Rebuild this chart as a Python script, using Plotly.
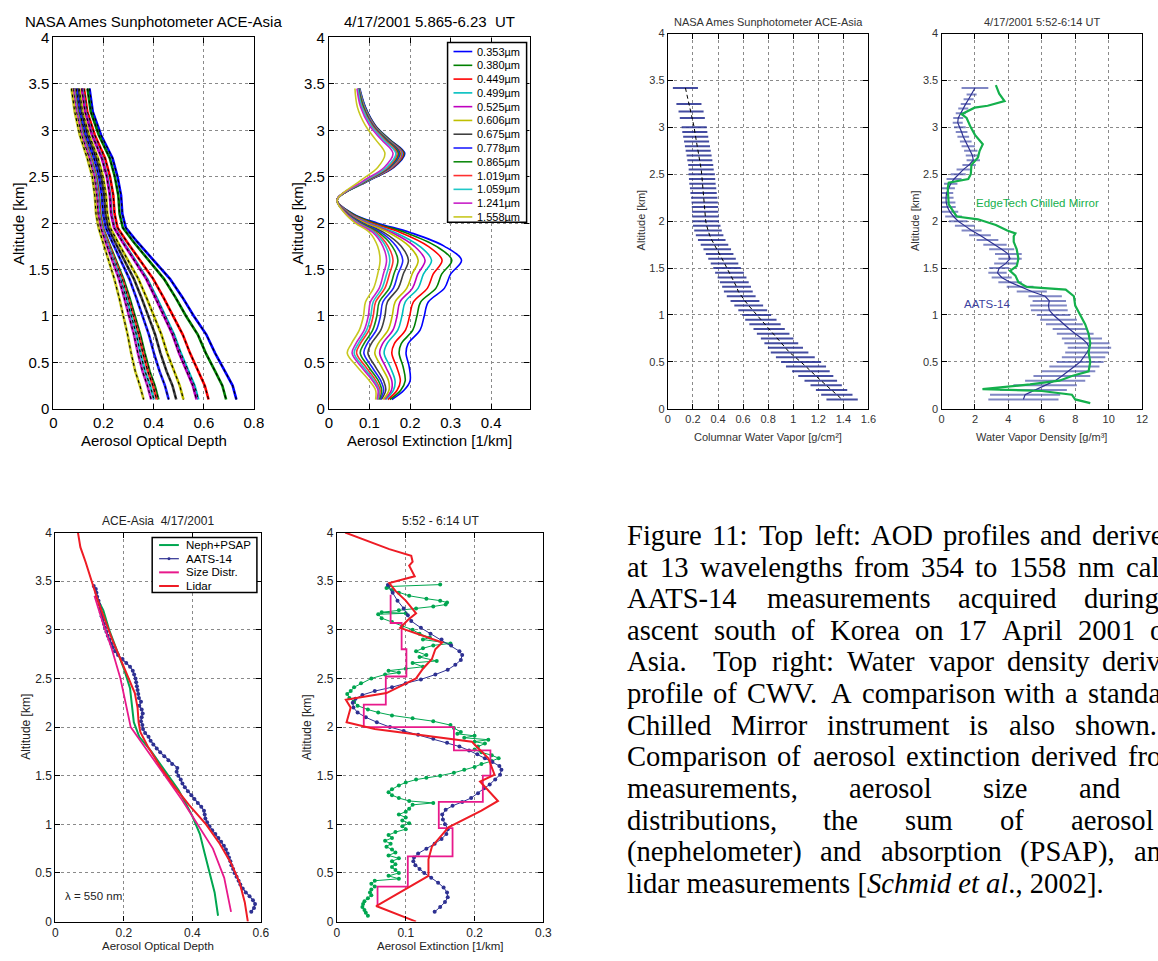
import plotly.graph_objects as go

W, H = 1158, 961
SANS = "Liberation Sans, Arial, Helvetica, sans-serif"
SERIF = "Liberation Serif, Times New Roman, serif"

# ---------------- top-left: AOD profiles (13 wavelengths) ----------------
wavelength_labels = ["0.353µm", "0.380µm", "0.449µm", "0.499µm", "0.525µm", "0.606µm", "0.675µm",
                     "0.778µm", "0.865µm", "1.019µm", "1.059µm", "1.241µm", "1.558µm"]
aod_altitude = [3.45, 3.2, 2.95, 2.7, 2.5, 2.3, 2.1, 1.95, 1.8, 1.6, 1.4, 1.2, 1.0, 0.8, 0.6, 0.4, 0.25, 0.1]
aod_0353 = [0.144, 0.157, 0.19, 0.236, 0.256, 0.27, 0.275, 0.289, 0.334, 0.4, 0.465, 0.515, 0.56, 0.61, 0.645, 0.685, 0.715, 0.73]
aod_0380 = [0.136, 0.149, 0.181, 0.225, 0.245, 0.259, 0.264, 0.277, 0.319, 0.38, 0.441, 0.487, 0.529, 0.576, 0.608, 0.646, 0.674, 0.689]
aod_0449 = [0.122, 0.135, 0.165, 0.206, 0.226, 0.239, 0.244, 0.256, 0.293, 0.346, 0.398, 0.439, 0.476, 0.516, 0.545, 0.578, 0.604, 0.619]
aod_0499 = [0.115, 0.128, 0.155, 0.195, 0.215, 0.227, 0.232, 0.244, 0.278, 0.326, 0.374, 0.411, 0.445, 0.481, 0.508, 0.538, 0.563, 0.578]
aod_0525 = [0.113, 0.126, 0.154, 0.193, 0.213, 0.225, 0.23, 0.242, 0.275, 0.323, 0.37, 0.406, 0.44, 0.475, 0.501, 0.531, 0.556, 0.571]
aod_0606 = [0.103, 0.116, 0.142, 0.178, 0.198, 0.21, 0.215, 0.227, 0.256, 0.297, 0.339, 0.371, 0.4, 0.431, 0.454, 0.481, 0.504, 0.519]
aod_0675 = [0.097, 0.11, 0.135, 0.17, 0.19, 0.202, 0.207, 0.218, 0.245, 0.283, 0.321, 0.351, 0.378, 0.406, 0.427, 0.452, 0.475, 0.49]
aod_0778 = [0.091, 0.104, 0.128, 0.162, 0.182, 0.193, 0.198, 0.209, 0.234, 0.269, 0.303, 0.33, 0.356, 0.381, 0.401, 0.424, 0.445, 0.46]
aod_0865 = [0.084, 0.097, 0.119, 0.151, 0.171, 0.182, 0.187, 0.197, 0.219, 0.249, 0.279, 0.303, 0.325, 0.346, 0.364, 0.384, 0.404, 0.419]
aod_1019 = [0.082, 0.095, 0.117, 0.149, 0.169, 0.18, 0.185, 0.195, 0.216, 0.245, 0.274, 0.297, 0.319, 0.34, 0.357, 0.377, 0.397, 0.412]
aod_1059 = [0.08, 0.093, 0.114, 0.146, 0.166, 0.177, 0.182, 0.192, 0.212, 0.24, 0.267, 0.29, 0.311, 0.331, 0.347, 0.366, 0.386, 0.401]
aod_1241 = [0.078, 0.091, 0.112, 0.143, 0.163, 0.173, 0.178, 0.189, 0.208, 0.234, 0.261, 0.282, 0.302, 0.321, 0.337, 0.356, 0.375, 0.39]
aod_1558 = [0.072, 0.085, 0.105, 0.135, 0.155, 0.165, 0.17, 0.18, 0.197, 0.22, 0.243, 0.262, 0.28, 0.296, 0.31, 0.327, 0.345, 0.36]

# ---------------- top-middle: extinction profiles ----------------
ext_altitude = [3.45, 3.25, 3.05, 2.9, 2.75, 2.6, 2.45, 2.25, 2.1, 2.0, 1.9, 1.75, 1.6, 1.45, 1.3, 1.15, 1.0, 0.85, 0.7, 0.6, 0.45, 0.3, 0.2, 0.1]
ext_0353 = [0.076, 0.09, 0.115, 0.15, 0.187, 0.16, 0.095, 0.02, 0.06, 0.12, 0.2, 0.285, 0.327, 0.3, 0.285, 0.245, 0.235, 0.225, 0.195, 0.19, 0.198, 0.2, 0.185, 0.155]
ext_0380 = [0.075, 0.089, 0.114, 0.149, 0.185, 0.158, 0.094, 0.02, 0.058, 0.113, 0.188, 0.265, 0.303, 0.278, 0.264, 0.226, 0.217, 0.207, 0.178, 0.173, 0.183, 0.188, 0.177, 0.15]
ext_0449 = [0.075, 0.088, 0.113, 0.147, 0.183, 0.157, 0.093, 0.02, 0.055, 0.107, 0.176, 0.245, 0.279, 0.257, 0.243, 0.208, 0.199, 0.189, 0.161, 0.155, 0.167, 0.176, 0.168, 0.145]
ext_0499 = [0.075, 0.088, 0.112, 0.146, 0.181, 0.155, 0.093, 0.02, 0.053, 0.1, 0.163, 0.224, 0.253, 0.233, 0.22, 0.188, 0.18, 0.17, 0.143, 0.136, 0.151, 0.163, 0.159, 0.14]
ext_0525 = [0.074, 0.087, 0.111, 0.144, 0.179, 0.154, 0.092, 0.02, 0.051, 0.095, 0.155, 0.211, 0.237, 0.219, 0.206, 0.175, 0.168, 0.158, 0.132, 0.125, 0.14, 0.155, 0.154, 0.137]
ext_0606 = [0.074, 0.086, 0.11, 0.143, 0.177, 0.152, 0.091, 0.02, 0.049, 0.091, 0.147, 0.198, 0.22, 0.205, 0.192, 0.163, 0.156, 0.146, 0.121, 0.113, 0.13, 0.147, 0.148, 0.134]
ext_0675 = [0.073, 0.085, 0.109, 0.142, 0.175, 0.15, 0.09, 0.02, 0.047, 0.084, 0.135, 0.178, 0.196, 0.183, 0.171, 0.144, 0.138, 0.128, 0.104, 0.096, 0.115, 0.135, 0.14, 0.129]
ext_0778 = [0.073, 0.084, 0.108, 0.14, 0.173, 0.149, 0.089, 0.02, 0.046, 0.08, 0.128, 0.166, 0.182, 0.17, 0.159, 0.133, 0.127, 0.117, 0.094, 0.086, 0.106, 0.128, 0.135, 0.126]
ext_0865 = [0.072, 0.084, 0.107, 0.139, 0.171, 0.147, 0.089, 0.02, 0.044, 0.077, 0.122, 0.156, 0.17, 0.16, 0.149, 0.124, 0.118, 0.108, 0.086, 0.077, 0.098, 0.122, 0.13, 0.124]
ext_1019 = [0.071, 0.082, 0.106, 0.137, 0.168, 0.145, 0.087, 0.02, 0.043, 0.074, 0.116, 0.146, 0.158, 0.149, 0.138, 0.115, 0.109, 0.099, 0.077, 0.068, 0.091, 0.116, 0.126, 0.121]
ext_1059 = [0.071, 0.081, 0.104, 0.134, 0.165, 0.142, 0.086, 0.02, 0.042, 0.072, 0.112, 0.14, 0.15, 0.142, 0.131, 0.109, 0.103, 0.093, 0.072, 0.062, 0.085, 0.112, 0.123, 0.12]
ext_1241 = [0.069, 0.078, 0.1, 0.129, 0.158, 0.136, 0.083, 0.02, 0.042, 0.069, 0.108, 0.133, 0.142, 0.134, 0.124, 0.102, 0.097, 0.087, 0.066, 0.057, 0.08, 0.108, 0.121, 0.118]
ext_1558 = [0.064, 0.07, 0.09, 0.115, 0.138, 0.12, 0.075, 0.02, 0.04, 0.065, 0.1, 0.12, 0.126, 0.12, 0.11, 0.09, 0.085, 0.075, 0.055, 0.045, 0.07, 0.1, 0.115, 0.115]

# ---------------- top-right 1: columnar water vapour ----------------
cwv_altitude = [3.42, 3.25, 3.17, 3.1, 3.0, 2.95, 2.9, 2.85, 2.8, 2.75, 2.7, 2.65, 2.6, 2.55, 2.5, 2.45, 2.4, 2.35,
                2.3, 2.25, 2.2, 2.15, 2.1, 2.05, 2.0, 1.95, 1.9, 1.85, 1.8, 1.75, 1.7, 1.65, 1.6, 1.55, 1.5, 1.45,
                1.4, 1.35, 1.3, 1.25, 1.2, 1.15, 1.1, 1.05, 1.0, 0.95, 0.9, 0.85, 0.8, 0.75, 0.7, 0.65, 0.6, 0.55,
                0.5, 0.45, 0.4, 0.35, 0.3, 0.25, 0.2, 0.15, 0.1]
cwv_value = [0.14, 0.168, 0.185, 0.195, 0.21, 0.215, 0.222, 0.229, 0.236, 0.242, 0.249, 0.255, 0.262, 0.266, 0.27,
             0.273, 0.276, 0.281, 0.285, 0.29, 0.294, 0.296, 0.298, 0.3, 0.302, 0.31, 0.32, 0.333, 0.35, 0.372,
             0.394, 0.413, 0.432, 0.452, 0.472, 0.492, 0.512, 0.53, 0.548, 0.562, 0.585, 0.615, 0.645, 0.677,
             0.709, 0.742, 0.775, 0.808, 0.84, 0.872, 0.905, 0.938, 0.971, 1.017, 1.063, 1.102, 1.141, 1.18,
             1.22, 1.263, 1.306, 1.348, 1.39]
cwv_error = [0.1, 0.1, 0.1, 0.1, 0.1, 0.1, 0.1, 0.1, 0.1, 0.1, 0.1, 0.1, 0.1, 0.1, 0.105, 0.105, 0.105, 0.105,
             0.105, 0.105, 0.105, 0.105, 0.105, 0.105, 0.105, 0.11, 0.11, 0.11, 0.11, 0.11, 0.11, 0.11, 0.11,
             0.11, 0.11, 0.115, 0.115, 0.115, 0.115, 0.115, 0.115, 0.115, 0.115, 0.115, 0.115, 0.125, 0.125,
             0.125, 0.13, 0.13, 0.135, 0.14, 0.15, 0.155, 0.16, 0.16, 0.15, 0.14, 0.13, 0.125, 0.125, 0.125, 0.125]

# ---------------- top-right 2: water vapour density ----------------
wvd_altitude = [3.42, 3.35, 3.3, 3.25, 3.2, 3.15, 3.1, 3.05, 3.0, 2.95, 2.9, 2.85, 2.8, 2.75, 2.7, 2.65, 2.6, 2.55,
                2.5, 2.45, 2.4, 2.35, 2.3, 2.25, 2.2, 2.15, 2.1, 2.05, 2.0, 1.95, 1.9, 1.85, 1.8, 1.75, 1.7, 1.65,
                1.6, 1.55, 1.5, 1.45, 1.4, 1.35, 1.3, 1.25, 1.2, 1.15, 1.1, 1.05, 1.0, 0.95, 0.9, 0.85, 0.8, 0.75,
                0.7, 0.65, 0.6, 0.55, 0.5, 0.45, 0.4, 0.35, 0.3, 0.25, 0.2, 0.15, 0.1]
wvd_aats = [2.0, 1.8, 1.62, 1.45, 1.3, 1.15, 1.0, 0.97, 1.1, 1.2, 1.3, 1.45, 1.6, 1.75, 1.85, 1.9, 1.65, 1.3, 1.0,
            0.75, 0.55, 0.4, 0.3, 0.27, 0.28, 0.35, 0.5, 0.72, 1.0, 1.4, 1.8, 2.3, 2.75, 3.2, 3.6, 4.0, 4.1, 3.85,
            3.45, 3.35, 3.6, 4.1, 4.7, 5.4, 6.2, 6.45, 6.4, 6.45, 6.7, 7.0, 7.35, 7.65, 8.0, 8.4, 8.7, 8.85, 8.7,
            8.5, 8.3, 7.95, 7.6, 7.2, 6.8, 6.2, 5.5, 5.0, 4.9]
wvd_error = [0.8, 0.3, 0.3, 0.3, 0.3, 0.3, 0.3, 0.3, 0.35, 0.35, 0.35, 0.35, 0.4, 0.4, 0.4, 0.4, 0.4, 0.4, 0.45,
             0.45, 0.4, 0.4, 0.4, 0.45, 0.55, 0.5, 0.5, 0.5, 0.55, 0.6, 0.6, 0.65, 0.65, 0.7, 0.75, 0.8, 0.7, 0.7,
             0.6, 0.55, 0.6, 0.7, 0.8, 0.9, 1.0, 1.0, 1.1, 1.1, 1.0, 1.1, 1.1, 1.0, 1.1, 1.2, 1.35, 1.3, 1.3, 1.3,
             1.4, 1.5, 1.6, 1.7, 1.8, 1.9, 2.0, 2.1, 2.1]
edgetech_altitude = [3.45, 3.36, 3.28, 3.23, 3.21, 3.14, 3.1, 3.0, 2.92, 2.82, 2.75, 2.68, 2.6, 2.5, 2.45, 2.41, 2.35,
                     2.25, 2.18, 2.1, 2.05, 2.02, 1.96, 1.9, 1.87, 1.84, 1.78, 1.7, 1.6, 1.52, 1.47, 1.42, 1.35, 1.3,
                     1.27, 1.2, 1.1, 1.0, 0.9, 0.8, 0.7, 0.6, 0.5, 0.4, 0.35, 0.3, 0.26, 0.21, 0.19, 0.15, 0.1, 0.06]
edgetech_wvd = [3.25, 3.45, 3.77, 2.76, 1.98, 1.2, 1.5, 1.75, 2.0, 2.47, 2.28, 2.18, 1.79, 1.75, 1.6, 0.43, 0.37, 0.4,
                0.43, 0.72, 0.91, 2.18, 3.25, 3.93, 4.42, 4.32, 4.32, 4.5, 4.6, 4.5, 4.1, 4.42, 4.6, 5.1, 7.43, 7.92,
                8.0, 8.3, 8.6, 8.8, 8.9, 8.8, 8.9, 8.8, 7.8, 7.05, 5.3, 2.45, 6.0, 7.8, 8.0, 8.9]

# ---------------- bottom-left: AOD comparison (550 nm) ----------------
neph_aod_altitude = [3.35, 3.2, 3.0, 2.8, 2.6, 2.4, 2.2, 2.05, 1.9, 1.75, 1.55, 1.35, 1.1, 0.9, 0.7, 0.5, 0.3, 0.06]
neph_aod = [0.118, 0.14, 0.157, 0.178, 0.2, 0.218, 0.225, 0.229, 0.245, 0.28, 0.32, 0.36, 0.398, 0.422, 0.436, 0.451, 0.465, 0.475]
aats_aod_altitude = [3.45, 3.42, 3.38, 3.34, 3.3, 3.26, 3.22, 3.18, 3.14, 3.1, 3.06, 3.02, 2.98, 2.94, 2.9, 2.86, 2.82,
                     2.78, 2.74, 2.7, 2.66, 2.62, 2.58, 2.54, 2.5, 2.46, 2.42, 2.38, 2.34, 2.3, 2.26, 2.22, 2.18, 2.14,
                     2.1, 2.06, 2.02, 1.98, 1.94, 1.9, 1.86, 1.82, 1.78, 1.74, 1.7, 1.66, 1.62, 1.58, 1.54, 1.5, 1.46,
                     1.42, 1.38, 1.34, 1.3, 1.26, 1.22, 1.18, 1.14, 1.1, 1.06, 1.02, 0.98, 0.94, 0.9, 0.86, 0.82, 0.78,
                     0.74, 0.7, 0.66, 0.62, 0.58, 0.54, 0.5, 0.46, 0.42, 0.38, 0.34, 0.3, 0.26, 0.22, 0.18, 0.14, 0.1]
aats_aod = [0.112, 0.118, 0.12, 0.122, 0.126, 0.128, 0.131, 0.133, 0.135, 0.139, 0.142, 0.145, 0.149, 0.153, 0.158,
            0.163, 0.168, 0.174, 0.183, 0.196, 0.207, 0.218, 0.226, 0.23, 0.234, 0.236, 0.238, 0.24, 0.242, 0.244,
            0.25, 0.245, 0.252, 0.255, 0.252, 0.25, 0.254, 0.256, 0.262, 0.272, 0.278, 0.286, 0.296, 0.306, 0.318,
            0.33, 0.341, 0.356, 0.354, 0.359, 0.366, 0.371, 0.378, 0.387, 0.397, 0.406, 0.416, 0.426, 0.434, 0.436,
            0.438, 0.443, 0.45, 0.458, 0.467, 0.476, 0.484, 0.492, 0.498, 0.503, 0.507, 0.511, 0.514, 0.519, 0.523,
            0.529, 0.535, 0.54, 0.547, 0.556, 0.567, 0.577, 0.583, 0.58, 0.572]
size_aod_altitude = [3.35, 3.1, 2.8, 2.5, 2.25, 2.0, 1.8, 1.55, 1.25, 1.0, 0.75, 0.45, 0.1]
size_aod = [0.114, 0.136, 0.165, 0.19, 0.205, 0.22, 0.26, 0.31, 0.37, 0.415, 0.46, 0.493, 0.513]
lidar_aod_altitude = [4.0, 3.85, 3.7, 3.5, 3.3, 3.1, 2.9, 2.7, 2.5, 2.35, 2.2, 2.05, 1.95, 1.8, 1.6, 1.4, 1.2, 1.0, 0.8, 0.6, 0.4, 0.2, 0.0]
lidar_aod = [0.066, 0.073, 0.088, 0.106, 0.124, 0.145, 0.166, 0.19, 0.215, 0.232, 0.24, 0.243, 0.248, 0.27, 0.305,
             0.345, 0.39, 0.44, 0.48, 0.513, 0.538, 0.553, 0.562]

# ---------------- bottom-middle: extinction comparison ----------------
neph_ext_altitude = [3.465, 3.445, 3.43, 3.41, 3.38, 3.35, 3.32, 3.3, 3.28, 3.26, 3.24, 3.22, 3.2, 3.18, 3.17, 3.16,
                     3.12, 3.08, 3.04, 3.0, 2.96, 2.92, 2.9, 2.86, 2.84, 2.81, 2.78, 2.74, 2.72, 2.68, 2.66, 2.62,
                     2.6, 2.58, 2.56, 2.54, 2.5, 2.45, 2.41, 2.37, 2.34, 2.3, 2.26, 2.22, 2.18, 2.15, 2.12, 2.09,
                     2.06, 2.02, 1.99, 1.95, 1.93, 1.91, 1.89, 1.87, 1.85, 1.83, 1.8, 1.77, 1.74, 1.71, 1.68, 1.65,
                     1.62, 1.59, 1.56, 1.53, 1.5, 1.48, 1.46, 1.43, 1.4, 1.36, 1.33, 1.3, 1.27, 1.24, 1.22, 1.2, 1.16,
                     1.13, 1.1, 1.07, 1.04, 1.01, 0.98, 0.95, 0.92, 0.89, 0.86, 0.83, 0.8, 0.77, 0.74, 0.71, 0.68,
                     0.65, 0.62, 0.59, 0.56, 0.53, 0.5, 0.47, 0.44, 0.42, 0.39, 0.36, 0.33, 0.3, 0.27, 0.24, 0.21,
                     0.18, 0.15, 0.12, 0.09, 0.06]
neph_ext = [0.15, 0.075, 0.072, 0.08, 0.09, 0.105, 0.13, 0.15, 0.16, 0.158, 0.14, 0.115, 0.09, 0.065, 0.1, 0.06,
            0.065, 0.08, 0.095, 0.11, 0.12, 0.135, 0.125, 0.165, 0.14, 0.125, 0.115, 0.13, 0.12, 0.145, 0.11, 0.125,
            0.1, 0.075, 0.09, 0.07, 0.05, 0.035, 0.025, 0.02, 0.015, 0.018, 0.025, 0.03, 0.045, 0.06, 0.08, 0.11,
            0.14, 0.165, 0.17, 0.18, 0.175, 0.2, 0.185, 0.22, 0.2, 0.215, 0.205, 0.2, 0.21, 0.225, 0.235, 0.225,
            0.21, 0.2, 0.185, 0.17, 0.15, 0.13, 0.115, 0.1, 0.09, 0.08, 0.075, 0.08, 0.09, 0.105, 0.14, 0.11, 0.105,
            0.1, 0.09, 0.1, 0.095, 0.105, 0.095, 0.1, 0.085, 0.075, 0.08, 0.07, 0.078, 0.072, 0.08, 0.085, 0.075,
            0.09, 0.08, 0.085, 0.08, 0.085, 0.09, 0.075, 0.09, 0.055, 0.05, 0.055, 0.05, 0.048, 0.05, 0.045, 0.04,
            0.038, 0.037, 0.04, 0.042, 0.045]
aats_ext_altitude = [3.46, 3.38, 3.3, 3.22, 3.15, 3.09, 3.02, 2.96, 2.9, 2.84, 2.78, 2.74, 2.69, 2.64, 2.59, 2.54,
                     2.49, 2.45, 2.41, 2.37, 2.33, 2.29, 2.25, 2.2, 2.15, 2.1, 2.05, 2.0, 1.96, 1.92, 1.88, 1.84, 1.8,
                     1.76, 1.72, 1.68, 1.64, 1.6, 1.56, 1.51, 1.46, 1.41, 1.37, 1.32, 1.27, 1.23, 1.19, 1.15, 1.1,
                     1.05, 1.0, 0.95, 0.9, 0.85, 0.8, 0.75, 0.7, 0.66, 0.62, 0.58, 0.54, 0.5, 0.45, 0.4, 0.35, 0.3,
                     0.25, 0.2, 0.15, 0.1]
aats_ext = [0.074, 0.081, 0.088, 0.097, 0.103, 0.108, 0.122, 0.136, 0.152, 0.166, 0.178, 0.182, 0.18, 0.172, 0.161,
            0.143, 0.122, 0.1, 0.08, 0.055, 0.037, 0.027, 0.023, 0.024, 0.03, 0.042, 0.058, 0.077, 0.097, 0.118,
            0.14, 0.16, 0.178, 0.192, 0.204, 0.215, 0.226, 0.236, 0.239, 0.237, 0.23, 0.222, 0.214, 0.205, 0.195,
            0.182, 0.168, 0.158, 0.153, 0.154, 0.157, 0.161, 0.159, 0.152, 0.142, 0.13, 0.118, 0.112, 0.111, 0.114,
            0.12, 0.127, 0.137, 0.147, 0.155, 0.16, 0.161, 0.157, 0.15, 0.142]
size_ext_bin_edges = [0.17, 0.36, 0.67, 0.96, 1.23, 1.5, 1.76, 2.0, 2.23, 2.52, 2.8, 3.07, 3.36]
size_ext = [0.059, 0.103, 0.168, 0.148, 0.212, 0.223, 0.17, 0.039, 0.071, 0.101, 0.094, 0.078]
lidar_ext_altitude = [4.0, 3.9, 3.83, 3.76, 3.7, 3.66, 3.6, 3.55, 3.48, 3.4, 3.3, 3.17, 3.1, 3.02, 2.87, 2.8, 2.7,
                      2.6, 2.5, 2.45, 2.35, 2.28, 2.2, 2.15, 2.05, 1.98, 1.85, 1.82, 1.68, 1.51, 1.44, 1.24, 1.14,
                      0.97, 0.77, 0.64, 0.47, 0.16, 0.0]
lidar_ext = [0.012, 0.048, 0.076, 0.108, 0.11, 0.105, 0.11, 0.113, 0.076, 0.085, 0.1, 0.115, 0.103, 0.092, 0.153,
             0.143, 0.138, 0.125, 0.115, 0.1, 0.072, 0.013, 0.02, 0.018, 0.014, 0.055, 0.196, 0.2, 0.22, 0.229,
             0.208, 0.234, 0.21, 0.162, 0.138, 0.133, 0.133, 0.057, 0.115]

comparison_labels = ["Neph+PSAP", "AATS-14", "Size Distr.", "Lidar"]

# ======================= figure =======================
wl_colors = ["#0000ff", "#008000", "#ff0000", "#00bfbf", "#bf00bf", "#bfbf00", "#404040",
             "#2020ff", "#108a10", "#ff3030", "#20c8c8", "#c820c8", "#c8c820"]
C_GREEN, C_BLUE, C_MAG, C_RED = "#00a650", "#2e3192", "#e8198b", "#ee1c25"

aod_series = [aod_0353, aod_0380, aod_0449, aod_0499, aod_0525, aod_0606, aod_0675,
              aod_0778, aod_0865, aod_1019, aod_1059, aod_1241, aod_1558]
ext_series = [ext_0353, ext_0380, ext_0449, ext_0499, ext_0525, ext_0606, ext_0675,
              ext_0778, ext_0865, ext_1019, ext_1059, ext_1241, ext_1558]


def px(x):
    return x / W


def py(y):
    return 1 - y / H


fig = go.Figure()


def ax(i):
    return ("x" if i == 1 else f"x{i}"), ("y" if i == 1 else f"y{i}")


# panel 1 : AOD – coloured line under black dashes
for col, vals in zip(wl_colors, aod_series):
    xa, ya = ax(1)
    fig.add_trace(go.Scatter(x=vals, y=aod_altitude, mode="lines", xaxis=xa, yaxis=ya,
                             line=dict(color=col, width=2.6), showlegend=False, hoverinfo="skip"))
    fig.add_trace(go.Scatter(x=vals, y=aod_altitude, mode="lines", xaxis=xa, yaxis=ya,
                             line=dict(color="black", width=1.1, dash="3px,3px"), showlegend=False))

# panel 2 : extinction
for col, vals, lab in zip(wl_colors, ext_series, wavelength_labels):
    xa, ya = ax(2)
    fig.add_trace(go.Scatter(x=vals, y=ext_altitude, mode="lines", xaxis=xa, yaxis=ya, name=lab,
                             line=dict(color=col, width=1.6, shape="spline", smoothing=1.0), showlegend=False))

# panel 3 : CWV
xa, ya = ax(3)
fig.add_trace(go.Scatter(x=cwv_value, y=cwv_altitude, mode="lines", xaxis=xa, yaxis=ya,
                         line=dict(color="black", width=1, dash="4px,3px"),
                         error_x=dict(type="data", array=cwv_error, color="rgba(35,45,145,0.85)",
                                      thickness=2, width=0), showlegend=False))

# panel 4 : water vapour density
xa, ya = ax(4)
fig.add_trace(go.Scatter(x=wvd_aats, y=wvd_altitude, mode="lines", xaxis=xa, yaxis=ya,
                         line=dict(color=C_BLUE, width=1.2),
                         error_x=dict(type="data", array=wvd_error, color="rgba(60,70,165,0.65)",
                                      thickness=2, width=0), showlegend=False))
fig.add_trace(go.Scatter(x=edgetech_wvd, y=edgetech_altitude, mode="lines", xaxis=xa, yaxis=ya,
                         line=dict(color="#14b04c", width=2.2), showlegend=False))

# panel 5 : AOD comparison
xa, ya = ax(5)
fig.add_trace(go.Scatter(x=neph_aod, y=neph_aod_altitude, mode="lines", xaxis=xa, yaxis=ya,
                         line=dict(color=C_GREEN, width=2), showlegend=False))
fig.add_trace(go.Scatter(x=aats_aod, y=aats_aod_altitude, mode="lines+markers", xaxis=xa, yaxis=ya,
                         line=dict(color=C_BLUE, width=1.2), marker=dict(color=C_BLUE, size=4), showlegend=False))
fig.add_trace(go.Scatter(x=size_aod, y=size_aod_altitude, mode="lines", xaxis=xa, yaxis=ya,
                         line=dict(color=C_MAG, width=1.8), showlegend=False))
fig.add_trace(go.Scatter(x=lidar_aod, y=lidar_aod_altitude, mode="lines", xaxis=xa, yaxis=ya,
                         line=dict(color=C_RED, width=2), showlegend=False))

# panel 6 : extinction comparison
xa, ya = ax(6)
fig.add_trace(go.Scatter(x=neph_ext, y=neph_ext_altitude, mode="lines+markers", xaxis=xa, yaxis=ya,
                         line=dict(color=C_GREEN, width=1), marker=dict(color=C_GREEN, size=4), showlegend=False))
fig.add_trace(go.Scatter(x=aats_ext, y=aats_ext_altitude, mode="lines+markers", xaxis=xa, yaxis=ya,
                         line=dict(color=C_BLUE, width=1), marker=dict(color=C_BLUE, size=4), showlegend=False))
step_x, step_y = [], []
for v, lo, hi in zip(size_ext, size_ext_bin_edges[:-1], size_ext_bin_edges[1:]):
    step_x += [v, v]
    step_y += [lo, hi]
fig.add_trace(go.Scatter(x=step_x, y=step_y, mode="lines", xaxis=xa, yaxis=ya,
                         line=dict(color=C_MAG, width=1.8), showlegend=False))
fig.add_trace(go.Scatter(x=lidar_ext, y=lidar_ext_altitude, mode="lines", xaxis=xa, yaxis=ya,
                         line=dict(color=C_RED, width=2), showlegend=False))

# ---------------- axes ----------------
panels = [
    ((50, 253), (29, 407), [0, 0.8], [0, 0.2, 0.4, 0.6, 0.8], 15, "black"),
    ((329, 532), (29, 407), [0, 0.495], [0, 0.1, 0.2, 0.3, 0.4], 15, "black"),
    ((672, 875), (25, 407), [0, 1.6], [0, 0.2, 0.4, 0.6, 0.8, 1, 1.2, 1.4, 1.6], 11, "#333"),
    ((949, 1152), (25, 407), [0, 12], [0, 2, 4, 6, 8, 10, 12], 11, "#333"),
    ((52, 260), (533, 929), [0, 0.6], [0, 0.2, 0.4, 0.6], 12, "#222"),
    ((337, 546), (533, 929), [0, 0.3], [0, 0.1, 0.2, 0.3], 12, "#222"),
]
layout_axes = {}
for i, (xp, yp, xr, xt, fs, fc) in enumerate(panels, 1):
    xname = "xaxis" if i == 1 else f"xaxis{i}"
    yname = "yaxis" if i == 1 else f"yaxis{i}"
    common = dict(showline=True, mirror="ticks", linecolor="black", linewidth=1.2, ticks="inside",
                  ticklen=5, tickcolor="black", showgrid=True, gridcolor="#8a8a8a", griddash="dot",
                  gridwidth=1, zeroline=False, tickfont=dict(family=SANS, size=fs, color=fc))
    layout_axes[xname] = dict(domain=[px(xp[0]), px(xp[1])], range=xr, tickvals=xt,
                              anchor=("y" if i == 1 else f"y{i}"), ticklabelstandoff=0, **common)
    layout_axes[yname] = dict(domain=[py(yp[1]), py(yp[0])], range=[0, 4],
                              tickvals=[0, 0.5, 1, 1.5, 2, 2.5, 3, 3.5, 4],
                              anchor=("x" if i == 1 else f"x{i}"), **common)

annotations = []


def text(x, y, s, size, color="black", angle=0, xanchor="center", family=SANS):
    annotations.append(dict(x=px(x), y=py(y), xref="paper", yref="paper", text=s, showarrow=False,
                            font=dict(size=size, color=color, family=family), textangle=angle,
                            xanchor=xanchor, yanchor="middle", borderpad=0))


# titles & axis labels
text(151.5, 13, "NASA Ames Sunphotometer ACE-Asia", 15)
text(430.5, 13, "4/17/2001 5.865-6.23\u00a0\u00a0UT", 15)
text(14, 218, "Altitude [km]", 15, angle=-90)
text(297, 218, "Altitude [km]", 15, angle=-90)
text(151.5, 439, "Aerosol Optical Depth", 15)
text(430.5, 439, "Aerosol Extinction [1/km]", 15)

text(773.5, 13, "NASA Ames Sunphotometer ACE-Asia", 11, "#333")
text(1050.5, 13, "4/17/2001 5:52-6:14 UT", 11, "#333")
text(645, 215, "Altitude [km]", 11, "#333", angle=-90)
text(922, 215, "Altitude [km]", 11, "#333", angle=-90)
text(773.5, 436, "Columnar Water Vapor [g/cm²]", 11, "#333")
text(1050.5, 436, "Water Vapor Density [g/m³]", 11, "#333")
text(1046, 197, "EdgeTech Chilled Mirror", 11.5, "#14b04c")
text(995, 300, "AATS-14", 11.5, "#3b3fa0")

text(156, 521, "ACE-Asia\u00a0\u00a04/17/2001", 12, "#222")
text(441.5, 521, "5:52 - 6:14 UT", 12, "#222")
text(22, 731, "Altitude [km]", 12, "#222", angle=-90)
text(307, 731, "Altitude [km]", 12, "#222", angle=-90)
text(156, 953.5, "Aerosol Optical Depth", 11.5, "#222")
text(441.5, 953.5, "Aerosol Extinction [1/km]", 11.5, "#222")
text(91, 903, "λ = 550 nm", 11.5, "#222")

# legends (drawn as boxes)
shapes = []


def rect(x0, y0, x1, y1, lw=1.5):
    shapes.append(dict(type="rect", xref="paper", yref="paper", x0=px(x0), x1=px(x1), y0=py(y1), y1=py(y0),
                       line=dict(color="black", width=lw), fillcolor="white", layer="above"))


def seg(x0, x1, y, color, w):
    shapes.append(dict(type="line", xref="paper", yref="paper", x0=px(x0), x1=px(x1), y0=py(y), y1=py(y),
                       line=dict(color=color, width=w), layer="above"))


rect(449, 34, 529, 217)
for k, (lab, col) in enumerate(zip(wavelength_labels, wl_colors)):
    yk = 43.3 + 14.03 * k
    seg(455, 474, yk, col, 1.6)
    text(478, yk, lab, 11, xanchor="left")

rect(150, 538, 256, 594)
leg_cols = [C_GREEN, C_BLUE, C_MAG, C_RED]
for k, (lab, col) in enumerate(zip(comparison_labels, leg_cols)):
    yk = 545.7 + 13.9 * k
    seg(157, 177, yk, col, 2 if k != 1 else 1.2)
    if k == 1:
        shapes.append(dict(type="circle", xref="paper", yref="paper", x0=px(165.5), x1=px(168.5),
                           y0=py(yk + 1.5), y1=py(yk - 1.5), fillcolor=col, line=dict(color=col, width=0),
                           layer="above"))
    text(183, yk, lab, 11.5, xanchor="left")

# caption (justified lines, clipped at the page edge like the original)
caption = [
    (["Figure", "11:", "Top", "left:", "AOD", "profiles", "and", "derived"],
     [630, 713.7, 760.1, 815.8, 871.5, 942.7, 1038.8, 1089.8]),
    (["at", "13", "wavelengths", "from", "354", "to", "1558", "nm", "calculated"],
     [630, 662.2, 702.2, 854.2, 920.6, 974.6, 1008.4, 1076.4, 1124.2]),
    (["AATS-14", "measurements", "acquired", "during"], [630, 768.7, 957.2, 1081.9]),
    (["ascent", "south", "of", "Korea", "on", "17", "April", "2001", "of"],
     [630, 715.5, 791.7, 830.5, 914.4, 957.9, 1001.4, 1076, 1147.5]),
    (["Asia.", "Top", "right:", "Water", "vapor", "density", "derived"],
     [630, 714.8, 773.2, 847.2, 928.9, 1006, 1100.2]),
    (["profile", "of", "CWV.", "A", "comparison", "with", "a", "standard"],
     [630, 715, 748.7, 831.4, 862, 1003, 1063.2, 1086]),
    (["Chilled", "Mirror", "instrument", "is", "also", "shown."], [630, 733, 828.1, 968.4, 1007.6, 1073.2]),
    (["Comparison", "of", "aerosol", "extinction", "derived", "from"], [630, 778.6, 813.6, 906.2, 1029.9, 1125.6]),
    (["measurements,", "aerosol", "size", "and"], [630, 849.2, 982.1, 1077.6]),
    (["distributions,", "the", "sum", "of", "aerosol"], [630, 824, 905.1, 998.8, 1069]),
    (["(nephelometer)", "and", "absorption", "(PSAP),", "and"], [630, 820.9, 881.1, 1019.2, 1131.6]),
    (["lidar measurements [<i>Schmid et al</i>., 2002]."], [630]),
]
CAP_SCALE = 1.022
for k, (words, xs) in enumerate(caption):
    baseline = 545.5 + 32.2 * k
    for wd, xw in zip(words, xs):
        text(630 + (xw - 630) * CAP_SCALE, baseline - 9.6, wd, 28 * CAP_SCALE, "black",
             xanchor="left", family=SERIF)

fig.update_layout(width=W, height=H, margin=dict(l=0, r=0, t=0, b=0), paper_bgcolor="white",
                  plot_bgcolor="white", showlegend=False, annotations=annotations, shapes=shapes,
                  **layout_axes)
fig.write_html("out.html")
